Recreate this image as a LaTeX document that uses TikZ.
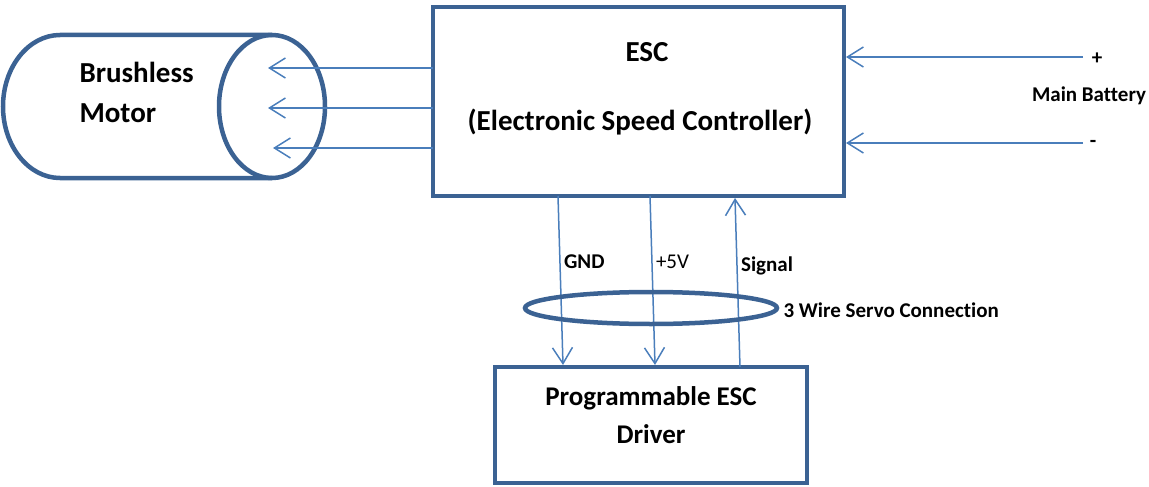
\documentclass[tikz,border=0pt]{standalone}
\usepackage{fontspec}
\setmainfont{Carlito}[Ligatures=NoCommon]
\usepackage{tikz}
\usetikzlibrary{calc,arrows.meta}
\definecolor{boxblue}{HTML}{3B6293}
\definecolor{wireblue}{HTML}{4A7EBB}

\begin{document}
\begin{tikzpicture}[x=1pt,y=-1pt,
  blk/.style={draw=boxblue,line width=4.5pt,rectangle,outer sep=0pt,inner sep=0pt},
  wire/.style={draw=wireblue,line width=1.5pt,-{Straight Barb[length=16pt,width=20pt]}},
  big/.style={font=\fontsize{29}{40}\selectfont\bfseries},
  mid/.style={font=\fontsize{27}{38}\selectfont\bfseries},
  small/.style={font=\fontsize{21}{25}\selectfont\bfseries},
  plain/.style={font=\fontsize{21}{25}\selectfont}]
  \useasboundingbox (0,0) rectangle (1149,487);

  % motor
  \draw[boxblue,line width=4.5pt] (272,35) -- (60,35)
    arc[start angle=90,end angle=270,x radius=57pt,y radius=71.5pt] -- (272,178);
  \draw[boxblue,line width=4.5pt] (272,106.5) ellipse[x radius=53pt,y radius=71.5pt];
  \node[big,align=left,anchor=west] (motor) at (76,92) {Brushless\\Motor};
  \coordinate (m1) at (268,68);
  \coordinate (m2) at (268,108);
  \coordinate (m3) at (273,148);

  % controller
  \node[blk,minimum width=411pt,minimum height=189pt] (esc) at (638.5,101.5) {};
  \node[big] (esctitle) at (647,52) {ESC};
  \node[big] (escname) at (640,122) {(Electronic Speed Controller)};

  % driver
  \node[blk,minimum width=312pt,minimum height=116pt] (drv) at (651,425) {};
  \node[mid,align=center] (drvname) at (651,415) {Programmable ESC\\Driver};

  % motor phases
  \draw[wire] ($(esc.north west)+(0,61)$) -- (m1);
  \draw[wire] ($(esc.north west)+(0,101)$) -- (m2);
  \draw[wire] ($(esc.north west)+(0,141)$) -- (m3);

  % battery
  \coordinate (bp) at (1083,57);
  \coordinate (bm) at (1083,143);
  \draw[wire] (bp) -- ($(esc.east |- bp)+(2,0)$);
  \draw[wire] (bm) -- ($(esc.east |- bm)+(2,0)$);
  \node[small] (plus) at (1097,59) {+};
  \node[small] (minus) at (1093,144) {-};
  \node[small] (batt) at (1089,96) {Main Battery};

  % servo wires
  \draw[wire] ($(esc.south west)+(125,0)$) -- ($(drv.north west)+(68,-2)$)
    node[pos=0.39,right,small] (gnd) {GND};
  \draw[wire] ($(esc.south west)+(217,0)$) -- ($(drv.north west)+(160,-2)$)
    node[pos=0.39,right,plain] (vcc) {+5V};
  \draw[wire] ($(drv.north west)+(245,0)$) -- ($(esc.south west)+(302,2)$)
    node[pos=0.6,right,small] (sig) {Signal};
  \draw[boxblue,line width=4.5pt] (651,308) ellipse[x radius=126pt,y radius=16pt];
  \node[small,anchor=west] (servo) at (780,310) {3 Wire Servo Connection};
\end{tikzpicture}
\end{document}
